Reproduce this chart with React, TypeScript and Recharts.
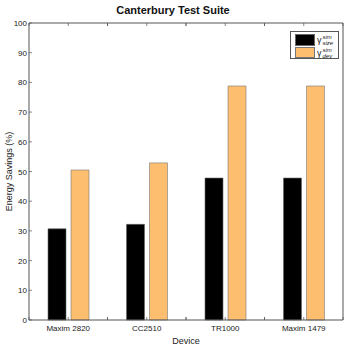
import { BarChart, Bar, XAxis, YAxis } from "recharts";

const devices = ["Maxim 2820", "CC2510", "TR1000", "Maxim 1479"];
const sizeSavings = [30.7, 32.2, 47.8, 47.8];
const devSavings = [50.5, 52.9, 78.8, 78.8];
const yTicks = [0, 10, 20, 30, 40, 50, 60, 70, 80, 90, 100];

const data = devices.map((device, i) => ({
  device,
  size: sizeSavings[i],
  dev: devSavings[i],
}));

// plot box geometry
const PL = 29;
const PR = 343;
const PT = 23;
const PB = 320;
const HALF = (PR - PL) / devices.length / 2;
const AXIS = "#555";
const FONT = "'Liberation Sans', Arial, sans-serif";

const BottomTick = (props: any) => {
  const { x, payload } = props;
  return (
    <g>
      {[-HALF, 0, HALF].map((d) => (
        <line key={d} x1={x + d} x2={x + d} y1={PB} y2={PB - 3} stroke={AXIS} strokeWidth={0.7} />
      ))}
      <text x={x} y={PB + 11} textAnchor="middle" fontSize={8} fill="#222" fontFamily={FONT}>
        {payload.value}
      </text>
    </g>
  );
};

const TopTick = (props: any) => {
  const { x } = props;
  return (
    <g>
      {[-HALF, 0, HALF].map((d) => (
        <line key={d} x1={x + d} x2={x + d} y1={PT} y2={PT + 3} stroke={AXIS} strokeWidth={0.7} />
      ))}
    </g>
  );
};

const LeftTick = (props: any) => {
  const { y, payload } = props;
  return (
    <g>
      <line x1={PL} x2={PL + 3} y1={y} y2={y} stroke={AXIS} strokeWidth={0.7} />
      <text x={PL - 2} y={y + 3} textAnchor="end" fontSize={8} fill="#222" fontFamily={FONT}>
        {payload.value}
      </text>
    </g>
  );
};

const RightTick = (props: any) => {
  const { y } = props;
  return <line x1={PR} x2={PR - 3} y1={y} y2={y} stroke={AXIS} strokeWidth={0.7} />;
};

const Gamma = ({ sub }: { sub: string }) => (
  <span style={{ display: "inline-flex", alignItems: "center", fontSize: 9 }}>
    <span>γ</span>
    <span style={{ display: "inline-flex", flexDirection: "column", fontSize: 6, lineHeight: "6px", marginLeft: 1 }}>
      <span style={{ fontStyle: "italic" }}>sim</span>
      <span style={{ fontStyle: "italic" }}>{sub}</span>
    </span>
  </span>
);

export default function App() {
  return (
    <div style={{ position: "absolute", left: 0, top: 0, width: 346, height: 346, background: "#fff", fontFamily: FONT }}>
      <div style={{ position: "absolute", top: 4, left: 0, width: 346, textAlign: "center", fontSize: 11, fontWeight: "bold", color: "#111" }}>
        Canterbury Test Suite
      </div>
      <BarChart
        width={346}
        height={346}
        data={data}
        margin={{ top: 22, right: 0, bottom: 0, left: 0 }}
        barSize={18}
        barGap={5}
      >
        <XAxis
          xAxisId="bottom"
          dataKey="device"
          height={26}
          stroke={AXIS}
          tickLine={false}
          tick={<BottomTick />}
          interval={0}
          label={{ value: "Device", position: "insideBottom", offset: 2, fontSize: 9, fill: "#222", fontFamily: FONT }}
        />
        <XAxis xAxisId="top" dataKey="device" orientation="top" height={1} stroke={AXIS} tickLine={false} tick={<TopTick />} interval={0} />
        <YAxis
          yAxisId="left"
          width={29}
          domain={[0, 100]}
          ticks={yTicks}
          stroke={AXIS}
          tickLine={false}
          tick={<LeftTick />}
          label={{ value: "Energy Savings (%)", angle: -90, position: "insideLeft", offset: 9, fontSize: 9, fill: "#222", fontFamily: FONT, style: { textAnchor: "middle" } }}
        />
        <YAxis yAxisId="right" orientation="right" width={3} domain={[0, 100]} ticks={yTicks} stroke={AXIS} tickLine={false} tick={<RightTick />} />
        <Bar xAxisId="bottom" yAxisId="left" dataKey="size" fill="#000" stroke="#666" strokeWidth={0.6} isAnimationActive={false} />
        <Bar xAxisId="bottom" yAxisId="left" dataKey="dev" fill="#FDBF6F" stroke="#777" strokeWidth={0.6} isAnimationActive={false} />
      </BarChart>
      <div
        style={{
          position: "absolute",
          left: 290,
          top: 31,
          width: 49,
          height: 28,
          border: `1px solid ${AXIS}`,
          background: "#fff",
          boxSizing: "border-box",
          padding: "1px 0 0 4px",
          color: "#222",
        }}
      >
        <div style={{ display: "flex", alignItems: "center", height: 13 }}>
          <div style={{ width: 20, height: 12, background: "#000", border: "1px solid #666", boxSizing: "border-box", marginRight: 2 }} />
          <Gamma sub="size" />
        </div>
        <div style={{ display: "flex", alignItems: "center", height: 13 }}>
          <div style={{ width: 20, height: 11, background: "#FDBF6F", border: "1px solid #777", boxSizing: "border-box", marginRight: 2 }} />
          <Gamma sub="dev" />
        </div>
      </div>
    </div>
  );
}
